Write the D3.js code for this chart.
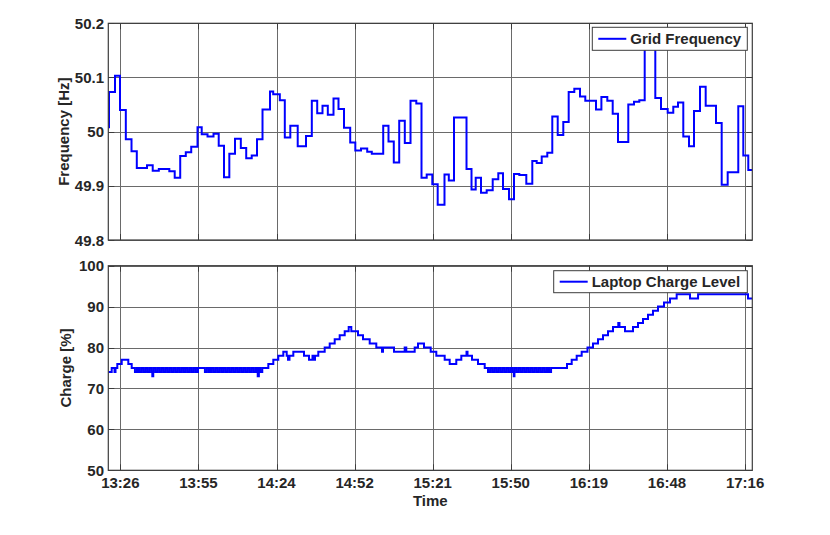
<!DOCTYPE html>
<html>
<head>
<meta charset="utf-8">
<script src="https://cdn.jsdelivr.net/npm/d3@7"></script>
<style>
  html, body { margin: 0; padding: 0; background: #fff; }
  svg text { font-family: "Liberation Sans", Arial, Helvetica, sans-serif; font-weight: bold; fill: #262626; }
</style>
</head>
<body>
<svg id="chart" width="830" height="535"></svg>
<script>
// ---- time axis (minutes since midnight) ----
const timeDomain = [801.97, 1039.46];
const timeTicks = [806.4, 835.2, 864.0, 892.8, 921.6, 950.4, 979.2, 1008.0, 1036.8];
const timeTickLabels = ["13:26", "13:55", "14:24", "14:52", "15:21", "15:50", "16:19", "16:48", "17:16"];

// ---- grid frequency readings [time (min), Hz] ----
const freqReadings = [
  [802.0, 50.008], [802.23, 50.073], [804.45, 50.103], [806.29, 50.040], [808.43, 49.986],
  [810.53, 49.964], [812.48, 49.933], [816.25, 49.938], [818.35, 49.928], [820.6, 49.931],
  [824.47, 49.927], [826.46, 49.915], [828.49, 49.955], [830.55, 49.962], [832.55, 49.972],
  [834.87, 50.008], [836.42, 49.995], [838.56, 49.991], [840.77, 49.996], [842.69, 49.974],
  [844.64, 49.916], [846.6, 49.959], [848.7, 49.987], [850.84, 49.970], [852.83, 49.951],
  [854.86, 49.956], [856.81, 49.986], [858.84, 50.041], [861.6, 50.074], [862.78, 50.069],
  [865.22, 50.058], [867.06, 49.989], [869.09, 50.011], [871.82, 49.973], [874.88, 49.992],
  [877.02, 50.057], [879.01, 50.034], [880.96, 50.048], [882.92, 50.031], [885.02, 50.061],
  [886.86, 50.042], [888.89, 50.007], [891.18, 49.980], [893.06, 49.965], [895.16, 49.969],
  [897.45, 49.963], [899.14, 49.959], [903.35, 50.011], [905.3, 49.982], [907.25, 49.943],
  [909.25, 50.020], [911.31, 49.979], [913.42, 50.057], [915.55, 50.052], [917.47, 49.915],
  [919.39, 49.921], [921.45, 49.903], [923.44, 49.865], [925.95, 49.921], [927.54, 49.910],
  [929.45, 50.026], [934.07, 49.931], [935.91, 49.893], [937.46, 49.915], [939.41, 49.887],
  [941.51, 49.892], [943.73, 49.912], [945.79, 49.923], [947.52, 49.894], [949.74, 49.875],
  [951.58, 49.922], [953.54, 49.920], [956.12, 49.904], [958.33, 49.946], [959.95, 49.942],
  [961.8, 49.954], [963.86, 49.961], [965.7, 50.028], [967.7, 49.994], [969.76, 50.018],
  [971.75, 50.073], [973.82, 50.079], [975.92, 50.065], [977.87, 50.057], [981.82, 50.041],
  [983.81, 50.064], [985.99, 50.057], [987.98, 50.033], [989.93, 49.981], [993.73, 50.050],
  [995.83, 50.055], [997.79, 50.058], [999.78, 50.170], [1003.69, 50.062], [1005.79, 50.042],
  [1008.26, 50.035], [1010.32, 50.046], [1012.06, 50.054], [1014.01, 49.991], [1016.11, 49.973],
  [1017.96, 50.038], [1020.17, 50.083], [1022.27, 50.048], [1026.07, 50.016], [1028.17, 49.902],
  [1030.38, 49.925], [1034.29, 50.047], [1036.14, 49.956], [1037.98, 49.929], [1039.46, 49.929]
];
const freqTicks = [49.8, 49.9, 50.0, 50.1, 50.2];
const freqTickLabels = ["49.8", "49.9", "50", "50.1", "50.2"];

// ---- laptop charge readings [time (min), %] ----
const chargeReadings = [
  [801.97, 74], [803.23, 75], [804.26, 74], [804.63, 75], [805.29, 76], [806.92, 77], [809.35, 76], [810.6, 75],
  [811.8, 74], [812.55, 75], [813.3, 74], [814.05, 75], [814.8, 74], [815.55, 75], [816.3, 74], [817.05, 75],
  [817.8, 74], [818.2, 73], [818.55, 75], [819.3, 74], [820.05, 75], [820.8, 74], [821.55, 75], [822.3, 74],
  [823.05, 75], [823.8, 74], [824.55, 75], [825.3, 74], [826.05, 75], [826.8, 74], [827.55, 75], [828.3, 74],
  [829.05, 75], [829.8, 74], [830.55, 75], [831.3, 74], [832.05, 75], [832.8, 74], [833.55, 75], [834.3, 74],
  [835.05, 75],
  [837.6, 74], [838.35, 75], [839.1, 74], [839.85, 75], [840.6, 74], [841.35, 75], [842.1, 74], [842.85, 75],
  [843.6, 74], [844.35, 75], [845.1, 74], [845.85, 75], [846.6, 74], [847.35, 75], [848.1, 74], [848.85, 75],
  [849.6, 74], [850.35, 75], [851.1, 74], [851.85, 75], [852.6, 74], [853.35, 75], [854.1, 74], [854.85, 75],
  [855.6, 74], [856.35, 75], [857.07, 73], [857.5, 75], [858.0, 74], [858.75, 75],
  [860.98, 76], [862.82, 77], [864.66, 78], [866.51, 79], [867.76, 78], [868.24, 77], [868.79, 78], [870.2, 79],
  [874.14, 78], [875.98, 77], [877.27, 78], [877.64, 77], [878.2, 78], [879.41, 79], [881.77, 80], [883.62, 81],
  [885.46, 82], [887.3, 83], [889.15, 84], [890.62, 85], [891.58, 84], [894.05, 83], [895.9, 82], [898.37, 81],
  [900.8, 80], [902.9, 79], [903.27, 80], [907.33, 79], [911.27, 80], [911.86, 79], [914.96, 80], [916.18, 81],
  [918.39, 80], [920.86, 79], [922.93, 78], [926.02, 77], [927.87, 76], [930.3, 77], [932.15, 78], [934.07, 79],
  [934.44, 78], [936.1, 77], [938.31, 76], [940.78, 75],
  [942.0, 74], [942.75, 75], [943.5, 74], [944.25, 75], [945.0, 74], [945.75, 75], [946.5, 74], [947.25, 75],
  [948.0, 74], [948.75, 75], [949.5, 74], [950.25, 75], [951.0, 74], [951.5, 73], [951.75, 75], [952.5, 74],
  [953.25, 75], [954.0, 74], [954.75, 75], [955.5, 74], [956.25, 75], [957.0, 74], [957.75, 75], [958.5, 74],
  [959.25, 75], [960.0, 74], [960.75, 75], [961.5, 74], [962.25, 75], [963.0, 74], [963.75, 75], [964.5, 74],
  [965.25, 75],
  [971.12, 76], [972.86, 77], [974.7, 78], [976.54, 79], [978.68, 80], [980.71, 81], [982.55, 82], [984.4, 83],
  [986.24, 84], [988.09, 85], [990.04, 86], [990.48, 85], [992.51, 84], [995.46, 85], [997.3, 86], [999.15, 87],
  [1000.99, 88], [1002.83, 89], [1004.68, 90], [1006.89, 91], [1009.1, 92], [1011.57, 93], [1016.48, 92], [1019.46, 93],
  [1037.87, 92], [1039.46, 92]
];
const chargeTicks = [50, 60, 70, 80, 90, 100];
const chargeTickLabels = ["50", "60", "70", "80", "90", "100"];

// ---- drawing ----
const svg = d3.select("#chart");
const left = 108.3, right = 752.3;
const x = d3.scaleLinear().domain(timeDomain).range([left, right]);

const panels = [
  { top: 23.3, bottom: 240, domain: [49.8, 50.2], ticks: freqTicks, labels: freqTickLabels,
    data: freqReadings, ylabel: "Frequency [Hz]", ylabelX: 68.5, legend: "Grid Frequency",
    legendBox: [592.3, 27.3, 155, 23] , showX: false },
  { top: 265.7, bottom: 470.3, domain: [50, 100], ticks: chargeTicks, labels: chargeTickLabels,
    data: chargeReadings, ylabel: "Charge [%]", ylabelX: 71, legend: "Laptop Charge Level",
    legendBox: [553.7, 270.7, 193.6, 22], showX: true }
];

const gridColor = "#6a6a6a";
const frameColor = "#3c3c3c";

panels.forEach((p, i) => {
  const y = d3.scaleLinear().domain(p.domain).range([p.bottom, p.top]);
  const g = svg.append("g");

  // clip
  const clipId = "clip" + i;
  svg.append("clipPath").attr("id", clipId).append("rect")
    .attr("x", left).attr("y", p.top).attr("width", right - left).attr("height", p.bottom - p.top);

  // grid
  g.append("g").selectAll("line.h").data(p.ticks).join("line")
    .attr("x1", left).attr("x2", right)
    .attr("y1", d => Math.round(y(d)) + 0.5).attr("y2", d => Math.round(y(d)) + 0.5)
    .attr("stroke", gridColor).attr("stroke-width", 1);
  g.append("g").selectAll("line.v").data(timeTicks).join("line")
    .attr("y1", p.top).attr("y2", p.bottom)
    .attr("x1", d => Math.round(x(d)) + 0.5).attr("x2", d => Math.round(x(d)) + 0.5)
    .attr("stroke", gridColor).attr("stroke-width", 1);

  // ticks (inward)
  const tl = 6;
  g.append("g").selectAll("line").data(timeTicks).join("line")
    .attr("x1", d => Math.round(x(d)) + 0.5).attr("x2", d => Math.round(x(d)) + 0.5)
    .attr("y1", p.bottom).attr("y2", p.bottom - tl).attr("stroke", frameColor);
  g.append("g").selectAll("line").data(timeTicks).join("line")
    .attr("x1", d => Math.round(x(d)) + 0.5).attr("x2", d => Math.round(x(d)) + 0.5)
    .attr("y1", p.top).attr("y2", p.top + tl).attr("stroke", frameColor);
  g.append("g").selectAll("line").data(p.ticks).join("line")
    .attr("y1", d => Math.round(y(d)) + 0.5).attr("y2", d => Math.round(y(d)) + 0.5)
    .attr("x1", left).attr("x2", left + tl).attr("stroke", frameColor);
  g.append("g").selectAll("line").data(p.ticks).join("line")
    .attr("y1", d => Math.round(y(d)) + 0.5).attr("y2", d => Math.round(y(d)) + 0.5)
    .attr("x1", right).attr("x2", right - tl).attr("stroke", frameColor);

  // data line
  const line = d3.line().x(d => x(d[0])).y(d => y(d[1])).curve(d3.curveStepAfter);
  g.append("path").datum(p.data)
    .attr("clip-path", `url(#${clipId})`)
    .attr("fill", "none").attr("stroke", "#0000ff").attr("stroke-width", 2)
    .attr("stroke-linejoin", "miter")
    .attr("d", line);

  // frame
  g.append("rect").attr("x", left).attr("y", p.top)
    .attr("width", right - left).attr("height", p.bottom - p.top)
    .attr("fill", "none").attr("stroke", frameColor).attr("stroke-width", 1.2);

  // y tick labels
  g.append("g").selectAll("text").data(p.ticks).join("text")
    .attr("x", 104).attr("y", d => y(d) + 5.5)
    .attr("text-anchor", "end").attr("font-size", 15)
    .text((d, k) => p.labels[k]);

  // y label
  g.append("text")
    .attr("transform", `translate(${p.ylabelX},${(p.top + p.bottom) / 2}) rotate(-90)`)
    .attr("text-anchor", "middle").attr("font-size", 15)
    .text(p.ylabel);

  // x tick labels
  if (p.showX) {
    g.append("g").selectAll("text").data(timeTicks).join("text")
      .attr("x", d => x(d)).attr("y", 488)
      .attr("text-anchor", "middle").attr("font-size", 15)
      .text((d, k) => timeTickLabels[k]);
    g.append("text").attr("x", (left + right) / 2).attr("y", 505.5)
      .attr("text-anchor", "middle").attr("font-size", 15).text("Time");
  }

  // legend
  const [lx, ly, lw, lh] = p.legendBox;
  const lg = svg.append("g");
  lg.append("rect").attr("x", lx).attr("y", ly).attr("width", lw).attr("height", lh)
    .attr("fill", "#fff").attr("stroke", frameColor).attr("stroke-width", 1);
  lg.append("line").attr("x1", lx + 6).attr("x2", lx + 34)
    .attr("y1", ly + lh / 2).attr("y2", ly + lh / 2)
    .attr("stroke", "#0000ff").attr("stroke-width", 2);
  lg.append("text").attr("x", lx + 38).attr("y", ly + lh / 2 + 5.5)
    .attr("font-size", 15).text(p.legend);
});
</script>
</body>
</html>
